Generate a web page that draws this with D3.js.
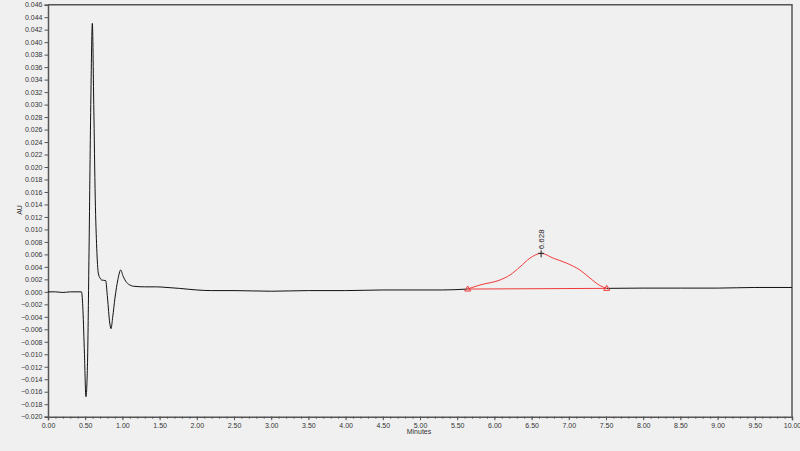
<!DOCTYPE html>
<html><head><meta charset="utf-8">
<script src="https://cdn.jsdelivr.net/npm/d3@7"></script>
<style>
html,body{margin:0;padding:0;background:#f0f0f0;}
svg{display:block;font-family:"Liberation Sans",Arial,sans-serif;}
</style></head>
<body>
<svg id="c" width="800" height="451"></svg>
<script>
// Black trace (minutes, AU) before the integrated peak
const traceTime = [0.0,0.1,0.2,0.3,0.45,0.47,0.49,0.51,0.53,0.55,0.575,0.596,0.615,0.635,0.655,0.676,0.70,0.72,0.775,0.80,0.83,0.847,0.87,0.90,0.94,0.977,1.01,1.057,1.10,1.147,1.30,1.46,1.6,1.77,2.0,2.2,2.5,3.0,3.5,4.0,4.5,5.0,5.3,5.641];
const traceAU   = [0.0,0.0,-0.0001,0.0,0.0,-0.003,-0.010,-0.0168,-0.012,0.005,0.030,0.0430,0.030,0.015,0.007,0.0030,0.0022,0.0019,0.0018,-0.001,-0.005,-0.0059,-0.004,-0.001,0.0020,0.0035,0.0025,0.0015,0.0011,0.0009,0.0008,0.0008,0.0007,0.00055,0.0003,0.0002,0.0002,0.0001,0.0002,0.0002,0.0003,0.0003,0.0003,0.00045];
// Integrated peak (red)
const peakTime = [5.641,5.806,6.075,6.21,6.344,6.478,6.628,6.79,6.97,7.15,7.285,7.42,7.51];
const peakAU   = [0.00045,0.0011,0.0019,0.0027,0.0040,0.0054,0.00617,0.0054,0.0046,0.0035,0.0022,0.0010,0.00056];
// Trace after the peak
const tailTime = [7.51,8.0,8.5,9.0,9.5,10.0];
const tailAU   = [0.00056,0.0006,0.0006,0.0006,0.0007,0.0007];
// Peak annotation
const apexTime = 6.628, apexAU = 0.00617, apexLabel = "6.628";
const baseStart = [5.641,0.00045], baseEnd = [7.51,0.00056];
// Axes
const xTicks = d3.range(0,10.001,0.5);
const xMinor = d3.range(0,10.001,0.1);
const yTicks = d3.range(-0.020,0.04601,0.002);

const svg = d3.select("#c");
const L=48,R=792,T=4.7,B=416.7;
const x = d3.scaleLinear().domain([0,10]).range([L,R]);
const y = d3.scaleLinear().domain([-0.020,0.046]).range([B,T]);
const axisCol="#555", textCol="#333";

// frame
svg.append("path").attr("d",`M${L},${T}H${R}V${B}`).attr("fill","none").attr("stroke",axisCol).attr("stroke-width",1.5);

// x axis
const gx = svg.append("g").attr("transform",`translate(0,${B})`);
gx.call(d3.axisBottom(x).tickValues(xMinor).tickSize(2).tickFormat(""));
gx.call(g=>{g.select(".domain").remove();});
const gx2 = svg.append("g").attr("transform",`translate(0,${B})`)
  .call(d3.axisBottom(x).tickValues(xTicks).tickSize(3.5).tickPadding(3).tickFormat(d3.format(".2f")));
[gx,gx2].forEach(g=>{g.selectAll("line").attr("stroke",axisCol);g.selectAll("text").attr("fill",textCol).attr("font-size",7).attr("font-family","Liberation Sans, Arial, sans-serif");});
gx2.select(".domain").attr("stroke",axisCol).attr("stroke-width",1.5);

// y axis
const gy2 = svg.append("g").attr("transform",`translate(${L},0)`)
  .call(d3.axisLeft(y).tickValues(yTicks).tickSize(3.5).tickPadding(2).tickFormat(d=>d3.format(".3f")(Math.abs(d)<1e-9?0:d)));
gy2.selectAll("line").attr("stroke",axisCol);
gy2.selectAll("text").attr("fill",textCol).attr("font-size",7).attr("font-family","Liberation Sans, Arial, sans-serif");
gy2.select(".domain").attr("stroke",axisCol).attr("stroke-width",1.5);

// labels
svg.append("text").attr("x",419).attr("y",434).attr("text-anchor","middle").attr("font-size",7).attr("fill",textCol).text("Minutes");
svg.append("text").attr("transform",`translate(22,210) rotate(-90)`).attr("text-anchor","middle").attr("font-size",7).attr("fill",textCol).text("AU");

const line = d3.line().x(d=>x(d[0])).y(d=>y(d[1])).curve(d3.curveMonotoneX);
const zip=(a,b)=>a.map((v,i)=>[v,b[i]]);

svg.append("path").attr("d",line(zip(traceTime,traceAU))).attr("fill","none").attr("stroke","#111").attr("stroke-width",1);
svg.append("path").attr("d",line(zip(tailTime,tailAU))).attr("fill","none").attr("stroke","#111").attr("stroke-width",1);
// baseline
svg.append("path").attr("d",d3.line().x(d=>x(d[0])).y(d=>y(d[1]))([baseStart,baseEnd])).attr("stroke","#f03a3a").attr("stroke-width",1).attr("fill","none");
svg.append("path").attr("d",line(zip(peakTime,peakAU))).attr("fill","none").attr("stroke","#f03a3a").attr("stroke-width",1);
// triangles
[baseStart,baseEnd].forEach(p=>{
  const cx=x(p[0]), cy=y(p[1]);
  svg.append("path").attr("d",`M${cx},${cy-3}L${cx+3},${cy+2}L${cx-3},${cy+2}Z`).attr("fill","none").attr("stroke","#f03a3a").attr("stroke-width",1);
});
// apex marker
const ax=x(apexTime), ay=y(apexAU);
svg.append("path").attr("d",`M${ax-3},${ay}H${ax+3}M${ax},${ay-3}V${ay+4}`).attr("stroke","#222").attr("stroke-width",1);
svg.append("text").attr("transform",`translate(${ax+2.5},${ay-4}) rotate(-90)`).attr("font-size",8).attr("fill","#222").text(apexLabel);
</script>
</body></html>
